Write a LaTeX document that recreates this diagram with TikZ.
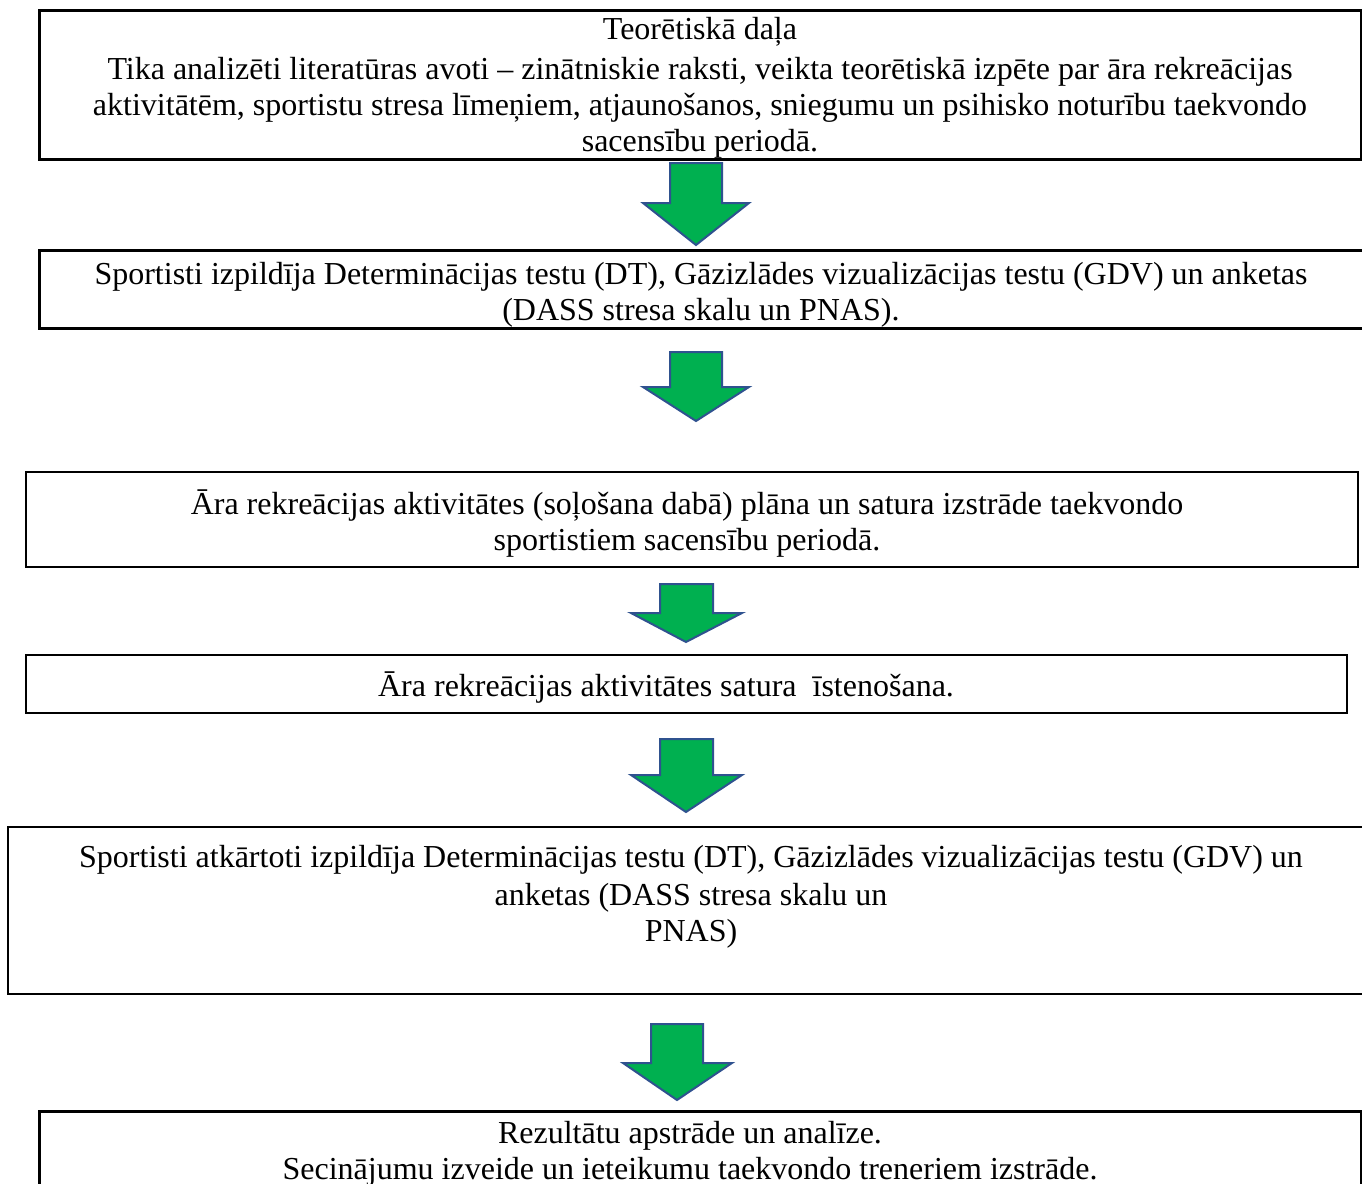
\documentclass[tikz,border=0pt]{standalone}
\usepackage{fontspec}
\setmainfont{Liberation Serif}
\usepackage{tikz}

\definecolor{arrowgreen}{RGB}{0,176,80}
\definecolor{arrowblue}{RGB}{47,82,143}

\begin{document}
\begin{tikzpicture}[x=0.5pt,y=-0.5pt,
    thickbox/.style={line width=1.5pt},
    thinbox/.style={line width=1pt},
    steptext/.style={align=center,inner sep=0pt,font=\fontsize{16}{18}\selectfont},
    greenarrow/.style={fill=arrowgreen,draw=arrowblue,line width=1pt,line join=miter}]

    % Page frame (pixel units, y grows downwards)
    \useasboundingbox (0,0) rectangle (1362,1184);
    \clip (0,0) rectangle (1362,1184);

    % Draw the stage boxes
    \draw[thickbox] (39,10) rectangle (1361,159);
    \draw[thickbox] (39,250) rectangle (1368,328);
    \draw[thinbox] (26,472) rectangle (1358,567);
    \draw[thinbox] (26,655) rectangle (1347,713);
    \draw[thinbox] (8,827) rectangle (1368,994);
    \draw[thickbox] (39,1111) rectangle (1361,1192);

    % Texts of the stages
    \node[steptext] (teorija) at (700,88) {Teorētiskā daļa\\[2pt]
        Tika analizēti literatūras avoti – zinātniskie raksti, veikta teorētiskā izpēte par āra rekreācijas\\
        aktivitātēm, sportistu stresa līmeņiem, atjaunošanos, sniegumu un psihisko noturību taekvondo\\
        sacensību periodā.};
    \node[steptext] (testi) at (701,295) {Sportisti izpildīja Determinācijas testu (DT), Gāzizlādes vizualizācijas testu (GDV) un anketas\\
        (DASS stresa skalu un PNAS).};
    \node[steptext] (plans) at (687,524) {Āra rekreācijas aktivitātes (soļošana dabā) plāna un satura izstrāde taekvondo\\
        sportistiem sacensību periodā.};
    \node[steptext] (istenosana) at (666,688) {Āra rekreācijas aktivitātes satura\ \ īstenošana.};
    \node[steptext] (atkartoti) at (691,897) {Sportisti atkārtoti izpildīja Determinācijas testu (DT), Gāzizlādes vizualizācijas testu (GDV) un\\[1pt]
        anketas (DASS stresa skalu un\\
        PNAS)};
    \node[steptext] (rezultati) at (690,1154) {Rezultātu apstrāde un analīze.\\
        Secinājumu izveide un ieteikumu taekvondo treneriem izstrāde.};

    % Green block arrows between the stages
    \draw[greenarrow] (670,163) -- (722,163) -- (722,203) -- (749,203) -- (696,245) -- (643,203) -- (670,203) -- cycle;
    \draw[greenarrow] (670,352) -- (722,352) -- (722,387) -- (749,387) -- (696,421) -- (643,387) -- (670,387) -- cycle;
    \draw[greenarrow] (660,584) -- (713,584) -- (713,613) -- (742,613) -- (686,642) -- (631,613) -- (660,613) -- cycle;
    \draw[greenarrow] (660,739) -- (713,739) -- (713,775) -- (742,775) -- (686,812) -- (631,775) -- (660,775) -- cycle;
    \draw[greenarrow] (651,1024) -- (703,1024) -- (703,1063) -- (732,1063) -- (677,1100) -- (623,1063) -- (651,1063) -- cycle;

\end{tikzpicture}
\end{document}
